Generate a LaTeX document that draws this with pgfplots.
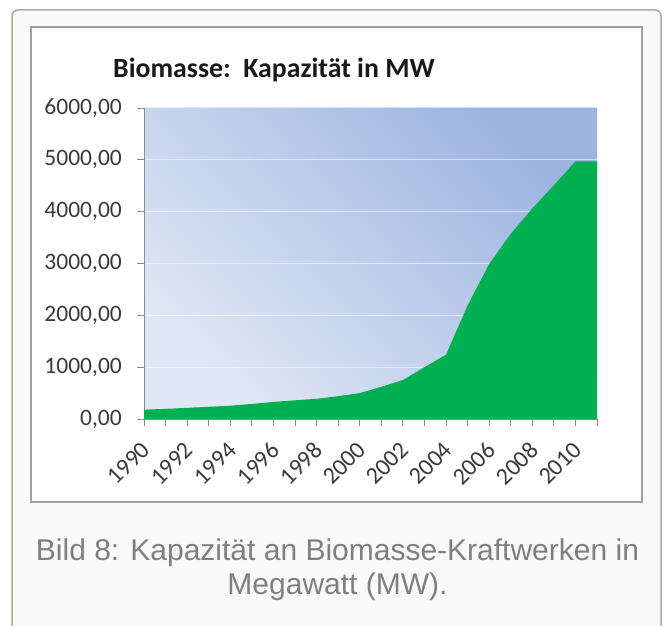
\documentclass[border=0pt]{standalone}
\usepackage{pgfplots}
\pgfplotsset{compat=1.18}
\usepackage{fontspec}
\setmainfont{Carlito}
\newfontfamily\capfont{Liberation Sans}
\definecolor{exgreen}{HTML}{00B050}
\definecolor{frametan}{HTML}{B3A899}
\definecolor{outerbg}{HTML}{F9F9F9}
\definecolor{innergray}{HTML}{A0A0A0}
\definecolor{capgray}{HTML}{7F7F7F}
\definecolor{tickgray}{HTML}{3A3A3A}
\definecolor{axgray}{HTML}{8C8C8C}
\definecolor{bgdark}{HTML}{9DB4E1}
\definecolor{bglight}{HTML}{E0E7F4}
\tikzset{yearlbl/.style={font=\fontsize{24}{24}\selectfont, text=tickgray, rotate=45, anchor=east, inner sep=0pt}}
\begin{document}
\begin{tikzpicture}[x=1pt,y=1pt]
\useasboundingbox (0,0) rectangle (664,626);
\fill[white] (0,0) rectangle (664,626);
\draw[line width=1.5pt, draw=frametan, fill=outerbg, rounded corners=6pt] (12,616) rectangle (661,-40);
\draw[line width=1.6pt, draw=innergray, fill=white] (31,599) rectangle (642,124);
\node[anchor=base west, font=\bfseries\fontsize{27.8}{27.8}\selectfont, text=black!90, inner sep=0pt] at (113,548) {Biomasse:\ \ Kapazität in MW};
\begin{axis}[
  at={(144pt,207pt)}, anchor=south west,
  scale only axis, width=453pt, height=311pt,
  xmin=0, xmax=21, ymin=0, ymax=6000,
  axis x line*=bottom, axis y line*=left,
  axis line style={draw=axgray, line width=0.8pt, -},
  tick style={draw=axgray, line width=0.8pt},
  tick align=outside, major tick length=7pt,
  xtick={0,...,21},
  xticklabels={},
  ytick={0,1000,...,6000},
  ymajorgrids, grid style={draw=white, opacity=0.55, line width=1pt},
  /pgf/number format/assume math mode=true,
  yticklabel={\pgfmathprintnumber[fixed, fixed zerofill, precision=2, use comma, 1000 sep={}]{\tick}},
  yticklabel style={font=\fontsize{23.5}{23.5}\selectfont, text=tickgray, anchor=east, inner sep=0pt, xshift=-15pt},
  axis background/.style={top color=bgdark, bottom color=bglight, shading angle=-45},
  clip=false,
]
\addplot[fill=exgreen, draw=none] coordinates {
(0,180) (1,195) (2,215) (3,235) (4,257) (5,290) (6,330) (7,360) (8,390) (9,440) (10,500)
(11,620) (12,750) (13,1000) (14,1240) (15,2190) (16,2990) (17,3570) (18,4060) (19,4510) (20,4970) (21,4970)
} \closedcycle;
\node[yearlbl] at ([xshift=2pt,yshift=-27pt]axis cs:0,0) {1990};
\node[yearlbl] at ([xshift=2pt,yshift=-27pt]axis cs:2,0) {1992};
\node[yearlbl] at ([xshift=2pt,yshift=-27pt]axis cs:4,0) {1994};
\node[yearlbl] at ([xshift=2pt,yshift=-27pt]axis cs:6,0) {1996};
\node[yearlbl] at ([xshift=2pt,yshift=-27pt]axis cs:8,0) {1998};
\node[yearlbl] at ([xshift=2pt,yshift=-27pt]axis cs:10,0) {2000};
\node[yearlbl] at ([xshift=2pt,yshift=-27pt]axis cs:12,0) {2002};
\node[yearlbl] at ([xshift=2pt,yshift=-27pt]axis cs:14,0) {2004};
\node[yearlbl] at ([xshift=2pt,yshift=-27pt]axis cs:16,0) {2006};
\node[yearlbl] at ([xshift=2pt,yshift=-27pt]axis cs:18,0) {2008};
\node[yearlbl] at ([xshift=2pt,yshift=-27pt]axis cs:20,0) {2010};
\end{axis}
\node[font=\capfont\fontsize{30}{34}\selectfont, text=capgray, align=center] at (337.5,56) {Bild 8: Kapazität an Biomasse-Kraftwerken in\\Megawatt (MW).};
\end{tikzpicture}
\end{document}
